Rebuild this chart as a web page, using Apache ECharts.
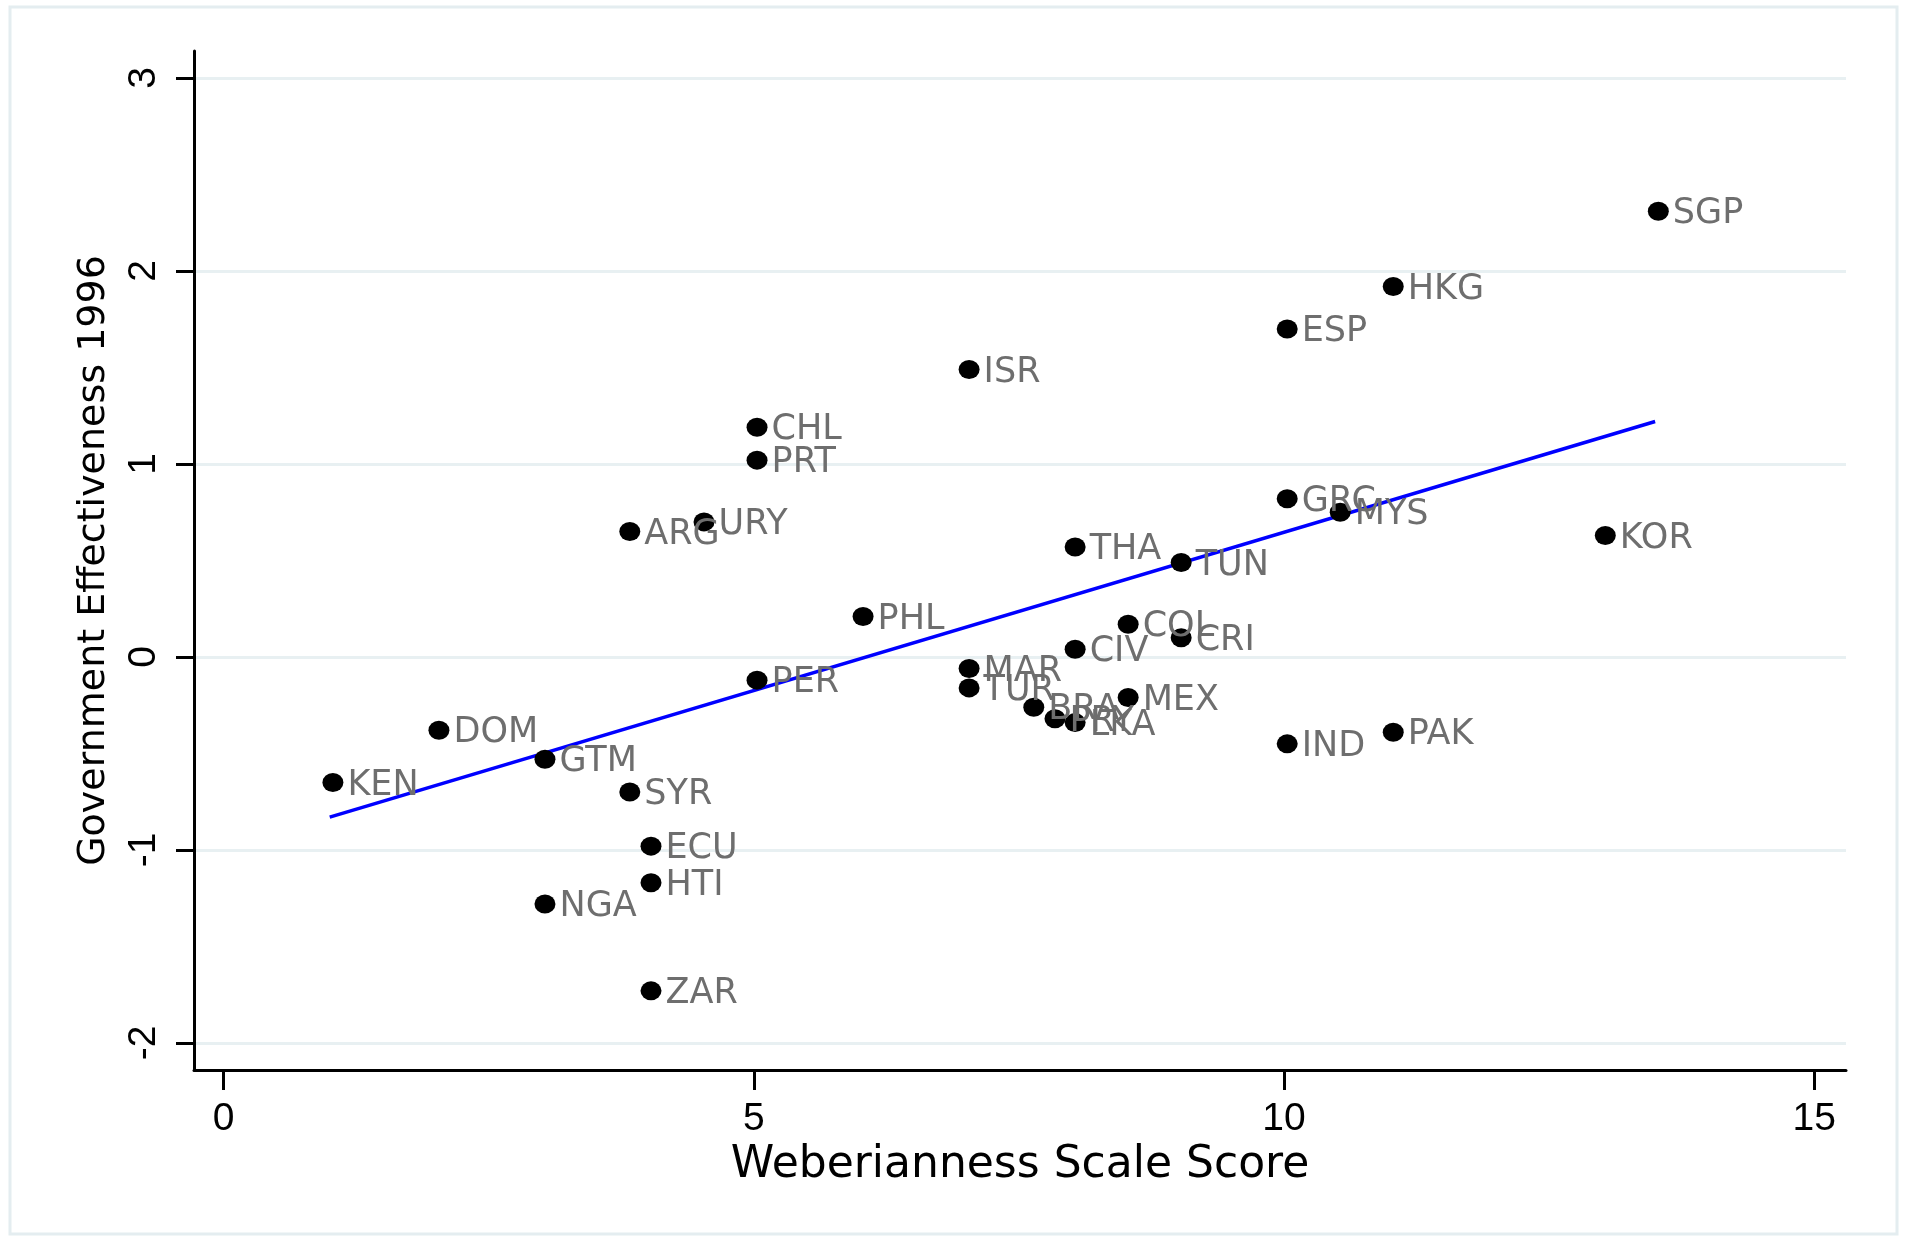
<!DOCTYPE html>
<html>
<head>
<meta charset="utf-8">
<script src="https://cdn.jsdelivr.net/npm/echarts@6/dist/echarts.min.js"></script>
<style>
html,body{margin:0;padding:0;background:#fff;}
#chart{width:1907px;height:1238px;}
</style>
</head>
<body>
<div id="chart"></div>
<script>
// Country codes, Weberianness scores (x) and Government Effectiveness 1996 (y)
const countries = ["SGP","HKG","ESP","ISR","CHL","PRT","ARG","URY","PHL","PER","MAR","TUR","BRA","PRY","LKA","MEX","CIV","COL","CRI","THA","TUN","IND","PAK","MYS","GRC","KOR","DOM","KEN","GTM","SYR","ECU","HTI","NGA","ZAR"];
const weberScore = [13.53, 11.03, 10.03, 7.03, 5.03, 5.03, 3.83, 4.53, 6.03, 5.03, 7.03, 7.03, 7.64, 7.84, 8.03, 8.53, 8.03, 8.53, 9.03, 8.03, 9.03, 10.03, 11.03, 10.53, 10.03, 13.03, 2.03, 1.03, 3.03, 3.83, 4.03, 4.03, 3.03, 4.03];
const govEff = [2.31, 1.92, 1.70, 1.49, 1.19, 1.02, 0.65, 0.70, 0.21, -0.12, -0.06, -0.16, -0.26, -0.32, -0.34, -0.21, 0.04, 0.17, 0.10, 0.57, 0.49, -0.45, -0.39, 0.75, 0.82, 0.63, -0.38, -0.65, -0.53, -0.70, -0.98, -1.17, -1.28, -1.73];
// Fitted line endpoints
const fitX = [1.0, 13.5];
const fitY = [-0.83, 1.22];
// Tick labels
const xTicks = [0, 5, 10, 15];
const yTicks = [-2, -1, 0, 1, 2, 3];

const points = countries.map((c, i) => ({ name: c, value: [weberScore[i], govEff[i]] }));
const fitData = fitX.map((x, i) => [x, fitY[i]]);

const chart = echarts.init(document.getElementById('chart'), null, { renderer: 'canvas' });
chart.setOption({
  backgroundColor: '#ffffff',
  animation: false,
  graphic: [{
    type: 'rect',
    shape: { x: 10, y: 7, width: 1887, height: 1227 },
    style: { fill: 'none', stroke: '#e4edf0', lineWidth: 3 },
    z: -10
  }],
  grid: { left: 194, right: 61, top: 51, bottom: 168, containLabel: false },
  xAxis: {
    type: 'value',
    min: -0.28, max: 15.3,
    name: 'Weberianness Scale Score',
    nameLocation: 'middle',
    nameGap: 71,
    nameTextStyle: { fontFamily: 'DejaVu Sans', fontSize: 44, color: '#000' },
    axisLine: { show: true, onZero: false, lineStyle: { color: '#000', width: 3 } },
    axisTick: { show: true, customValues: xTicks, length: 20, lineStyle: { color: '#000', width: 3 } },
    axisLabel: { customValues: xTicks, margin: 30, fontFamily: 'Liberation Sans', fontSize: 39, color: '#000' },
    splitLine: { show: false }
  },
  yAxis: {
    type: 'value',
    min: -2.14, max: 3.14,
    name: 'Government Effectiveness 1996',
    nameLocation: 'middle',
    nameGap: 81,
    nameRotate: 90,
    nameTextStyle: { fontFamily: 'DejaVu Sans', fontSize: 38, color: '#000' },
    axisLine: { show: true, onZero: false, lineStyle: { color: '#000', width: 3 } },
    axisTick: { show: true, customValues: yTicks, length: 18, lineStyle: { color: '#000', width: 3 } },
    axisLabel: { customValues: yTicks, rotate: 90, margin: 30, fontFamily: 'Liberation Sans', fontSize: 39, color: '#000' },
    splitLine: { show: true, lineStyle: { color: '#e8f0f2', width: 3 } }
  },
  series: [
    {
      type: 'line',
      data: fitData,
      symbol: 'none',
      lineStyle: { color: '#0000ff', width: 3.5 },
      z: 2,
      silent: true
    },
    {
      type: 'scatter',
      data: points,
      symbol: 'circle',
      symbolSize: [21, 19],
      itemStyle: { color: '#000', opacity: 1 },
      label: {
        show: true,
        position: 'right',
        distance: 4,
        offset: [0, 3],
        formatter: p => p.name,
        fontFamily: 'DejaVu Sans',
        fontSize: 35,
        color: '#6e6e6e',
        opacity: 1
      },
      z: 3
    }
  ]
});
</script>
</body>
</html>
